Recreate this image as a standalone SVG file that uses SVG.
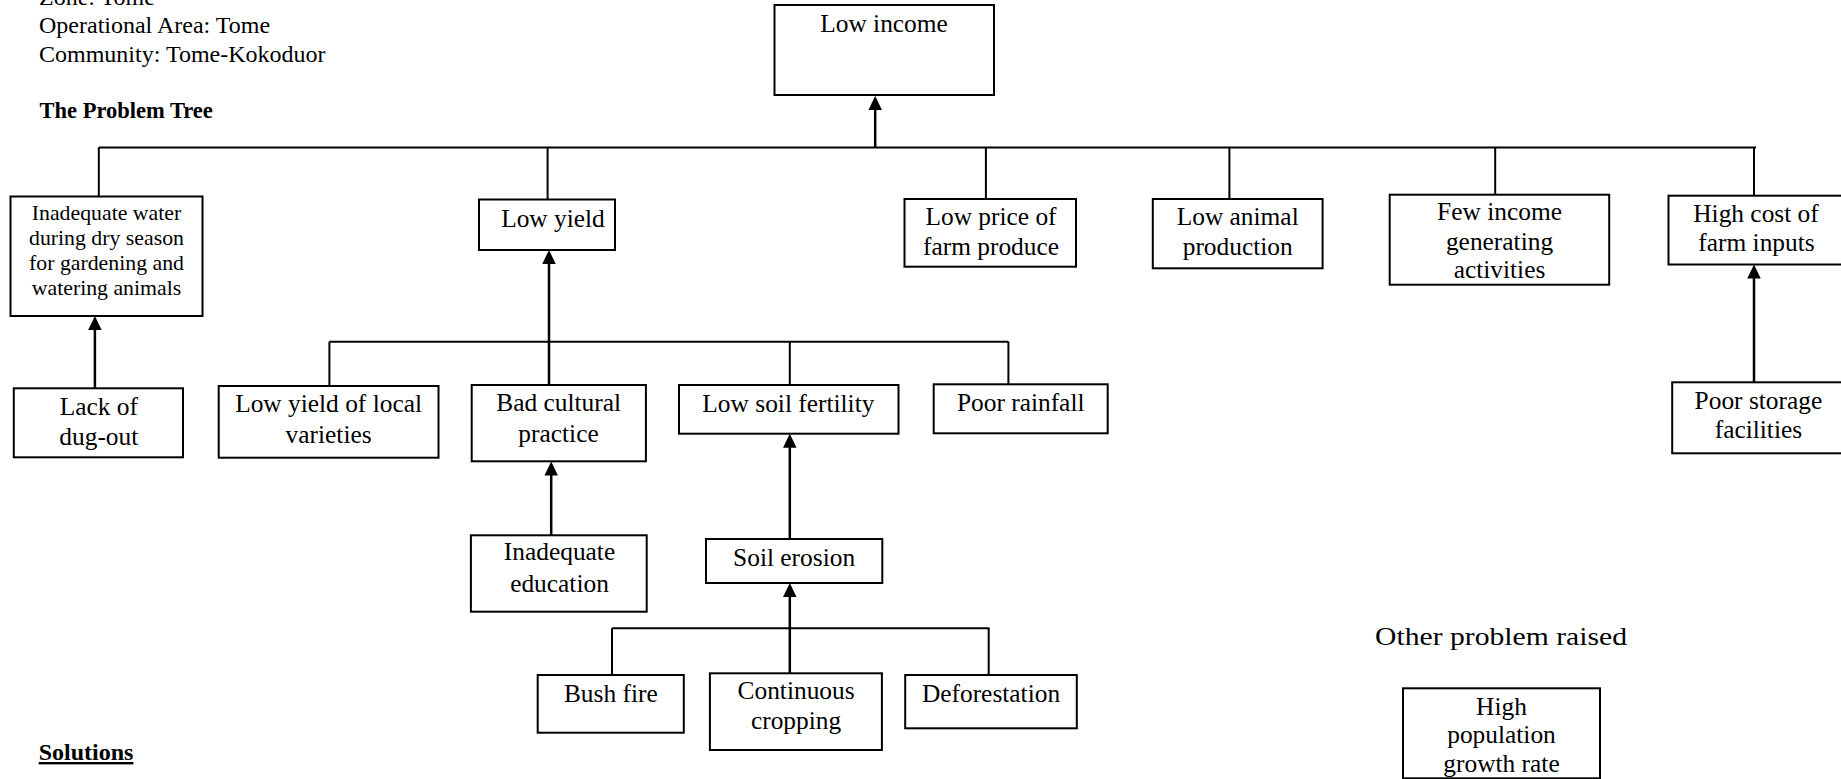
<svg xmlns="http://www.w3.org/2000/svg" width="1841" height="779" viewBox="0 0 1841 779">
  <defs>
    <marker id="head" markerUnits="userSpaceOnUse" markerWidth="14" markerHeight="14" refX="2" refY="6.75" orient="auto">
      <path d="M0,0 L14,6.75 L0,13.5 z" fill="#000"/>
    </marker>
    <style>
      rect { fill: #fff; stroke: #000; stroke-width: 2; }
      text { font-family: "Liberation Serif", "Times New Roman", serif; fill: #000; }
      .t { font-size: 25.4px; text-anchor: middle; }
      .s { font-size: 21.8px; text-anchor: middle; }
      .h { font-size: 24px; }
      .b { font-weight: bold; }
      .ln { stroke: #000; stroke-width: 2; fill: none; }
      .ar { stroke: #000; stroke-width: 2.5; fill: none; marker-end: url(#head); }
    </style>
  </defs>
  <rect x="0" y="0" width="1841" height="779" style="fill:#fff;stroke:none"/>

  <!-- header -->
  <g id="header">
    <text class="h" x="39" y="5">Zone: Tome</text>
    <text class="h" x="39" y="33.3">Operational Area: Tome</text>
    <text class="h" x="39" y="61.7">Community: Tome-Kokoduor</text>
    <text class="b" x="39.5" y="118.3" font-size="22.5">The Problem Tree</text>
  </g>

  <!-- connectors -->
  <g id="connectors">
    <!-- first level bar -->
    <line class="ln" x1="98.8" y1="147.5" x2="1756" y2="147.5"/>
    <line class="ln" x1="98.8" y1="147.5" x2="98.8" y2="196.5"/>
    <line class="ln" x1="547.6" y1="147.5" x2="547.6" y2="199.5"/>
    <line class="ln" x1="985.9" y1="147.5" x2="985.9" y2="199"/>
    <line class="ln" x1="1229.4" y1="147.5" x2="1229.4" y2="199"/>
    <line class="ln" x1="1495.2" y1="147.5" x2="1495.2" y2="194.7"/>
    <line class="ln" x1="1754" y1="147.5" x2="1754" y2="195.7"/>
    <line class="ar" x1="875.2" y1="147.5" x2="875.2" y2="108"/>

    <!-- water branch -->
    <line class="ar" x1="94.9" y1="388.3" x2="94.9" y2="328"/>

    <!-- yield branch -->
    <line class="ar" x1="549" y1="385" x2="549" y2="262"/>
    <line class="ln" x1="329.4" y1="341.7" x2="1008.4" y2="341.7"/>
    <line class="ln" x1="329.4" y1="341.7" x2="329.4" y2="386"/>
    <line class="ln" x1="789.8" y1="341.7" x2="789.8" y2="385"/>
    <line class="ln" x1="1008.4" y1="341.7" x2="1008.4" y2="384.3"/>
    <line class="ar" x1="551.2" y1="535.3" x2="551.2" y2="473.5"/>
    <line class="ar" x1="789.8" y1="539" x2="789.8" y2="445.7"/>

    <!-- erosion causes -->
    <line class="ln" x1="612" y1="628.3" x2="989.5" y2="628.3"/>
    <line class="ln" x1="612" y1="628.3" x2="612" y2="675"/>
    <line class="ln" x1="988.7" y1="628.3" x2="988.7" y2="675"/>
    <line class="ar" x1="789.8" y1="673.3" x2="789.8" y2="595"/>

    <!-- inputs branch -->
    <line class="ar" x1="1754" y1="382.3" x2="1754" y2="276.5"/>
  </g>

  <!-- nodes -->
  <g id="low-income">
    <rect x="774.5" y="5" width="219.5" height="90"/>
    <text class="t" x="884" y="32.3">Low income</text>
  </g>
  <g id="inadequate-water">
    <rect x="10.5" y="196.5" width="192" height="119.5"/>
    <text class="s" x="106.5" y="220">Inadequate water</text>
    <text class="s" x="106.5" y="245">during dry season</text>
    <text class="s" x="106.5" y="269.5">for gardening and</text>
    <text class="s" x="106.5" y="295">watering animals</text>
  </g>
  <g id="low-yield">
    <rect x="479" y="199.5" width="136" height="50.5"/>
    <text class="t" x="553" y="226.7">Low yield</text>
  </g>
  <g id="low-price">
    <rect x="904.5" y="199" width="171.5" height="67.7"/>
    <text class="t" x="991" y="225">Low price of</text>
    <text class="t" x="991" y="255">farm produce</text>
  </g>
  <g id="low-animal">
    <rect x="1152.8" y="199" width="169.8" height="69.3"/>
    <text class="t" x="1237.7" y="225">Low animal</text>
    <text class="t" x="1237.7" y="255">production</text>
  </g>
  <g id="few-income">
    <rect x="1389.7" y="194.7" width="219.5" height="90"/>
    <text class="t" x="1499.5" y="220">Few income</text>
    <text class="t" x="1499.5" y="250">generating</text>
    <text class="t" x="1499.5" y="278.3">activities</text>
  </g>
  <g id="high-cost">
    <rect x="1668.5" y="195.7" width="185" height="68.8"/>
    <text class="t" x="1756" y="221.7">High cost of</text>
    <text class="t" x="1756.5" y="250.7">farm inputs</text>
  </g>
  <g id="lack-dugout">
    <rect x="13.8" y="388.3" width="169.2" height="69"/>
    <text class="t" x="98.8" y="415">Lack of</text>
    <text class="t" x="98.8" y="445">dug-out</text>
  </g>
  <g id="low-yield-local">
    <rect x="218.7" y="386" width="219.8" height="71.7"/>
    <text class="t" x="328.6" y="411.7">Low yield of local</text>
    <text class="t" x="328.6" y="442.7">varieties</text>
  </g>
  <g id="bad-cultural">
    <rect x="471.7" y="385" width="174.2" height="76.3"/>
    <text class="t" x="558.7" y="410.7">Bad cultural</text>
    <text class="t" x="558.5" y="441.7">practice</text>
  </g>
  <g id="low-soil">
    <rect x="679" y="385" width="219.5" height="48.7"/>
    <text class="t" x="788.4" y="411.7">Low soil fertility</text>
  </g>
  <g id="poor-rainfall">
    <rect x="933.7" y="384.3" width="174" height="49"/>
    <text class="t" x="1020.7" y="410.7">Poor rainfall</text>
  </g>
  <g id="poor-storage">
    <rect x="1672.2" y="382.3" width="185" height="71"/>
    <text class="t" x="1758.4" y="409.3">Poor storage</text>
    <text class="t" x="1758.4" y="438.3">facilities</text>
  </g>
  <g id="inadequate-education">
    <rect x="470.9" y="535.3" width="175.8" height="76.4"/>
    <text class="t" x="559.5" y="560">Inadequate</text>
    <text class="t" x="559.5" y="591.7">education</text>
  </g>
  <g id="soil-erosion">
    <rect x="706" y="539" width="176.3" height="44"/>
    <text class="t" x="794.1" y="566">Soil erosion</text>
  </g>
  <g id="bush-fire">
    <rect x="537.7" y="675" width="146.1" height="57.7"/>
    <text class="t" x="610.8" y="701.7">Bush fire</text>
  </g>
  <g id="continuous-cropping">
    <rect x="709.9" y="673.3" width="172" height="76.7"/>
    <text class="t" x="796.1" y="699.3">Continuous</text>
    <text class="t" x="796.1" y="729.3">cropping</text>
  </g>
  <g id="deforestation">
    <rect x="905.2" y="675" width="171.6" height="53.3"/>
    <text class="t" x="991" y="701.7">Deforestation</text>
  </g>

  <!-- other problem -->
  <g id="other-problem">
    <text x="1375" y="645" font-size="26" textLength="252" lengthAdjust="spacingAndGlyphs">Other problem raised</text>
  </g>
  <g id="high-population">
    <rect x="1403" y="688.3" width="197" height="90"/>
    <text class="t" x="1501.5" y="715">High</text>
    <text class="t" x="1501.5" y="743.3">population</text>
    <text class="t" x="1501.5" y="771.7">growth rate</text>
  </g>

  <g id="solutions-heading">
    <text class="b" x="38.7" y="760" font-size="24" text-decoration="underline">Solutions</text>
  </g>
</svg>
